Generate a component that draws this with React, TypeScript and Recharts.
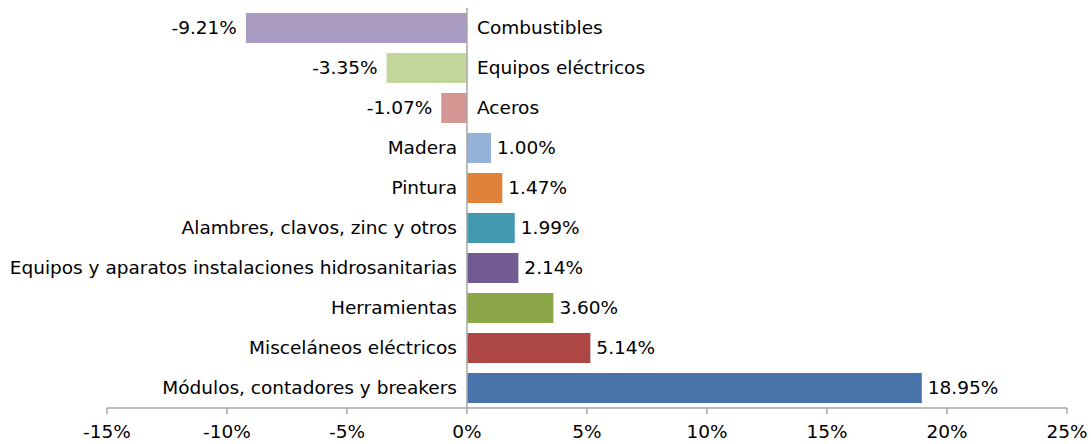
import { Bar, BarChart, Cell, LabelList, ReferenceLine, XAxis, YAxis } from "recharts";

// Variación por grupo de insumos (%)
const categories = [
  "Combustibles",
  "Equipos eléctricos",
  "Aceros",
  "Madera",
  "Pintura",
  "Alambres, clavos, zinc y otros",
  "Equipos y aparatos instalaciones hidrosanitarias",
  "Herramientas",
  "Misceláneos eléctricos",
  "Módulos, contadores y breakers",
];
const values = [-9.21, -3.35, -1.07, 1.0, 1.47, 1.99, 2.14, 3.6, 5.14, 18.95];
const xTicks = [-15, -10, -5, 0, 5, 10, 15, 20, 25];

const barColors = [
  "#A99BC1",
  "#C3D69B",
  "#D69694",
  "#95B3D7",
  "#E0823A",
  "#4299B0",
  "#735A90",
  "#8CA64A",
  "#AC4745",
  "#4674AA",
];

const data = categories.map((name, i) => ({ name, value: values[i] }));

const FONT = "'DejaVu Sans', sans-serif";
const FS = 18.5;

function CategoryLabel(props: any) {
  const { x, y, width, height, index } = props;
  const v = values[index];
  const left = Math.min(x, x + width);
  const right = Math.max(x, x + width);
  const zero = v < 0 ? right : left;
  const cy = y + height / 2;
  return (
    <text
      x={v < 0 ? zero + 10 : zero - 10}
      y={cy}
      dy="0.35em"
      textAnchor={v < 0 ? "start" : "end"}
      fontFamily={FONT}
      fontSize={FS}
      fill="#000"
    >
      {categories[index]}
    </text>
  );
}

function ValueLabel(props: any) {
  const { x, y, width, height, index } = props;
  const v = values[index];
  const left = Math.min(x, x + width);
  const right = Math.max(x, x + width);
  const cy = y + height / 2;
  return (
    <text
      x={v < 0 ? left - 9 : right + 6}
      y={cy}
      dy="0.35em"
      textAnchor={v < 0 ? "end" : "start"}
      fontFamily={FONT}
      fontSize={FS}
      fill="#000"
    >
      {`${v.toFixed(2)}%`}
    </text>
  );
}

export default function App() {
  return (
    <div style={{ position: "absolute", left: 0, top: 0, background: "#fff" }}>
      <BarChart
        width={1091}
        height={444}
        data={data}
        layout="vertical"
        margin={{ top: 8, right: 24, bottom: 0, left: 107 }}
        barCategoryGap={10}
      >
        <XAxis
          type="number"
          domain={[-15, 25]}
          ticks={xTicks}
          allowDataOverflow
          tickFormatter={(v) => `${v}%`}
          height={36}
          axisLine={{ stroke: "#A6A6A6", strokeWidth: 1.5 }}
          tickLine={{ stroke: "#A6A6A6", strokeWidth: 1.5 }}
          tickSize={6}
          tick={{ fill: "#000", fontFamily: FONT, fontSize: FS }}
          tickMargin={11}
          interval={0}
        />
        <YAxis type="category" dataKey="name" hide />
        <ReferenceLine x={0} stroke="#A6A6A6" strokeWidth={1.5} />
        <Bar dataKey="value" isAnimationActive={false} barSize={30}>
          {data.map((d, i) => (
            <Cell key={d.name} fill={barColors[i]} />
          ))}
          <LabelList dataKey="value" content={<CategoryLabel />} />
          <LabelList dataKey="value" content={<ValueLabel />} />
        </Bar>
      </BarChart>
    </div>
  );
}
